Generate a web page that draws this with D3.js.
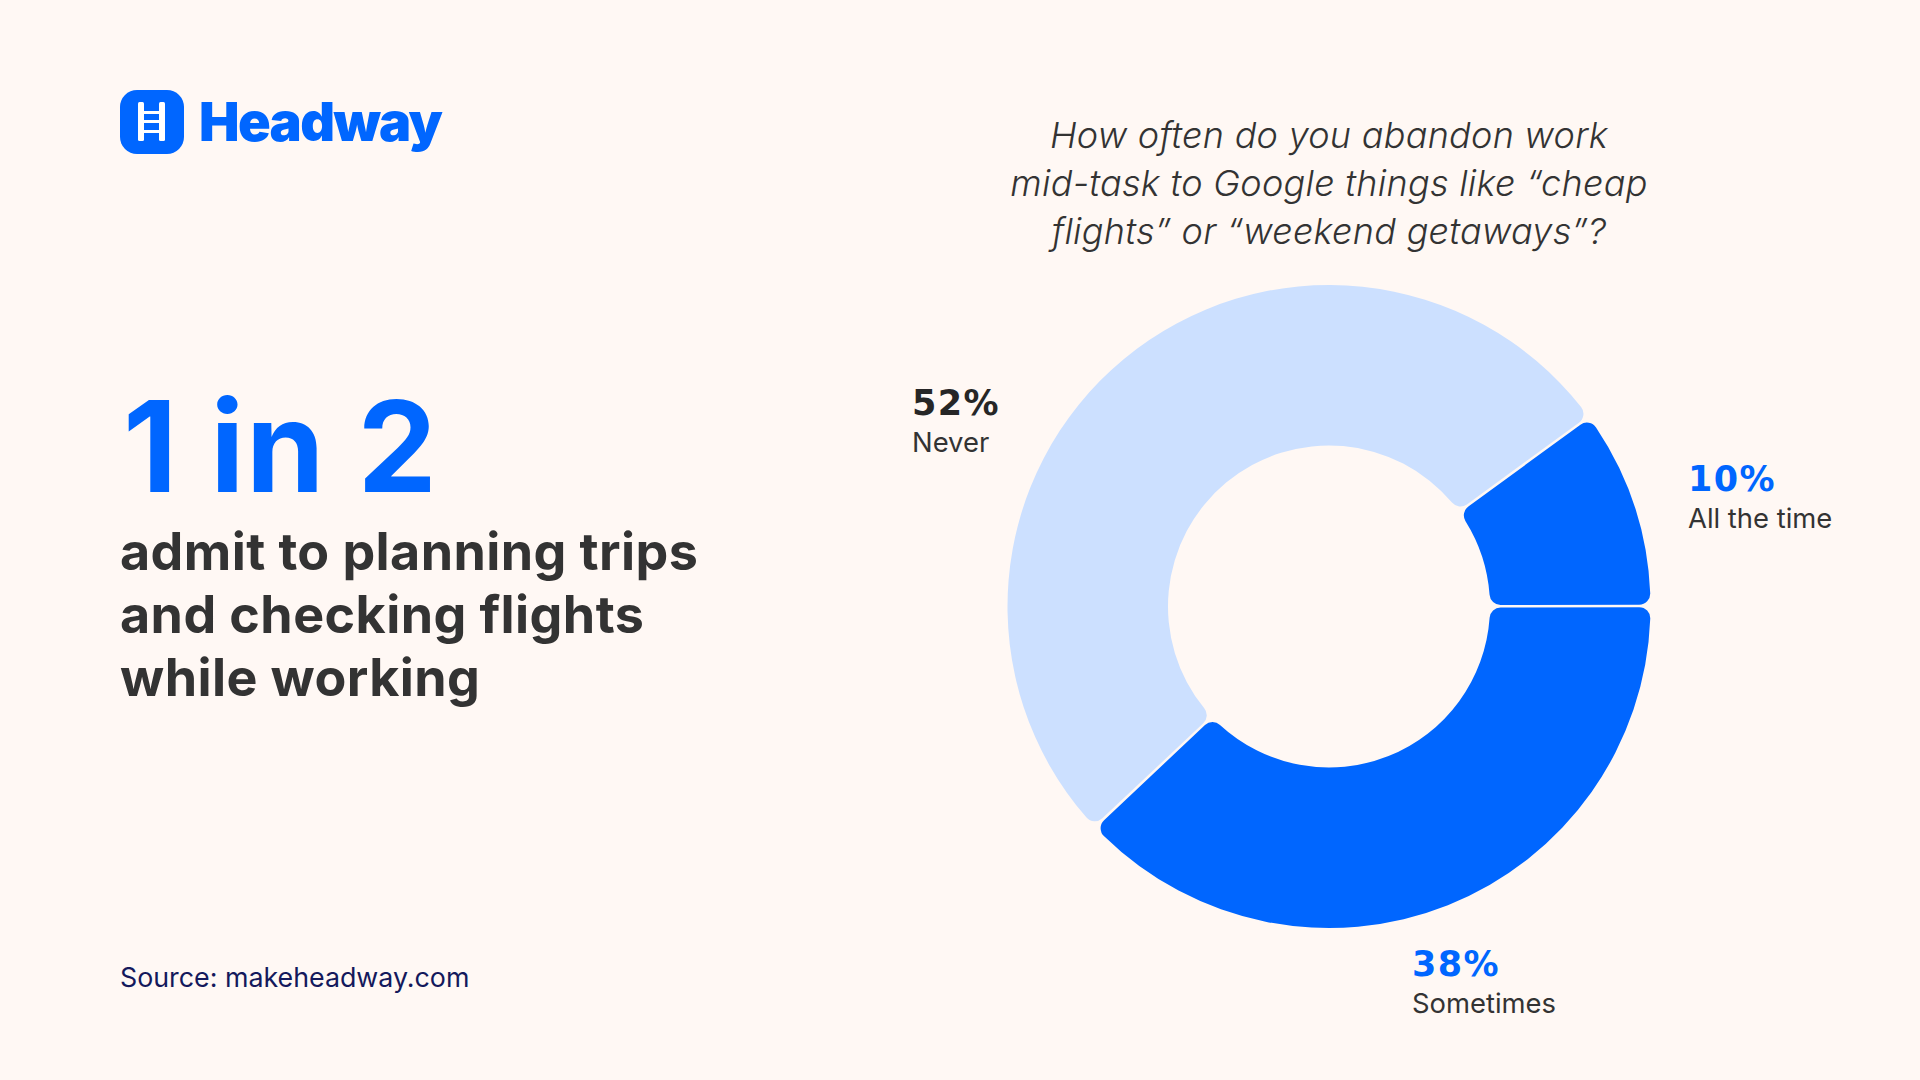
<!DOCTYPE html>
<html>
<head>
<meta charset="utf-8">
<script src="https://cdn.jsdelivr.net/npm/d3@7"></script>
<style>
    html, body { margin: 0; padding: 0; background: #fff8f4; }
    svg { display: block; }
    text { font-family: Inter, sans-serif; }
</style>
</head>
<body>
<div id="chart"></div>
<script>
var categories = ['Never', 'All the time', 'Sometimes'];
var values = [52, 10, 38];
var sliceColors = ['#cce0ff', '#0066ff', '#0066ff'];
var percentColors = ['#262626', '#0066ff', '#0066ff'];
var questionLines = [
    'How often do you abandon work',
    'mid-task to Google things like \u201ccheap',
    'flights\u201d or \u201cweekend getaways\u201d?'
];
var headlineLines = [
    'admit to planning trips',
    'and checking flights',
    'while working'
];

(function(){
    'use strict';

    var width = 1920, height = 1080;
    var cx = 1329, cy = 606.5, outer = 321.5, inner = 161;
    var blue = '#0066ff', dark = '#333333';

    var svg = d3.select('#chart').append('svg')
        .attr('width', width)
        .attr('height', height);

    svg.append('rect')
        .attr('width', width)
        .attr('height', height)
        .attr('fill', '#fff8f4');

    // logo
    var logo = svg.append('g');
    logo.append('rect')
        .attr('x', 120).attr('y', 90)
        .attr('width', 64).attr('height', 64)
        .attr('rx', 17)
        .attr('fill', blue);
    [138, 159].forEach(function(x) {
        logo.append('rect')
            .attr('x', x).attr('y', 102)
            .attr('width', 6).attr('height', 39)
            .attr('rx', 1.5)
            .attr('fill', '#fff');
    });
    [111, 120, 130].forEach(function(y) {
        logo.append('rect')
            .attr('x', 143).attr('y', y)
            .attr('width', 17).attr('height', 3)
            .attr('fill', '#fff');
    });
    logo.append('text')
        .attr('x', 199).attr('y', 141)
        .attr('font-size', 54)
        .attr('font-weight', 900)
        .attr('letter-spacing', -1.6)
        .attr('fill', blue)
        .text('Headway');

    // left column
    svg.append('text')
        .attr('x', 123).attr('y', 492)
        .attr('font-size', 126)
        .attr('font-weight', 700)
        .attr('letter-spacing', 1.6)
        .attr('fill', blue)
        .text('1 in 2');

    svg.selectAll('.headline').data(headlineLines).enter()
        .append('text')
        .attr('class', 'headline')
        .attr('x', 120)
        .attr('y', function(d, i) { return 570 + i * 63; })
        .attr('font-size', 52)
        .attr('font-weight', 700)
        .attr('letter-spacing', 0.42)
        .attr('fill', dark)
        .text(function(d) { return d; });

    svg.append('text')
        .attr('x', 120).attr('y', 987)
        .attr('font-size', 26.8)
        .attr('fill', '#14195c')
        .text('Source: makeheadway.com');

    // question
    svg.selectAll('.question').data(questionLines).enter()
        .append('text')
        .attr('class', 'question')
        .attr('x', 1329)
        .attr('y', function(d, i) { return 148 + i * 48; })
        .attr('text-anchor', 'middle')
        .attr('font-size', 36)
        .attr('font-style', 'italic')
        .attr('font-weight', 300)
        .attr('letter-spacing', 0.27)
        .attr('fill', dark)
        .text(function(d) { return d; });

    // donut
    var color = d3.scaleOrdinal().domain(categories).range(sliceColors);
    var start = 226.7 * Math.PI / 180;
    var pie = d3.pie()
        .sort(null)
        .startAngle(start)
        .endAngle(start + 2 * Math.PI);
    var arc = d3.arc()
        .innerRadius(inner)
        .outerRadius(outer)
        .cornerRadius(11)
        .padRadius(outer)
        .padAngle(2.5 / outer);

    svg.append('g')
        .attr('transform', 'translate(' + cx + ',' + cy + ')')
        .selectAll('path')
        .data(pie(values))
        .enter()
        .append('path')
        .attr('d', arc)
        .attr('fill', function(d, i) { return color(categories[i]); });

    // labels
    var labelX = [912, 1688, 1412];
    var labelY = [415, 491, 976];
    var labels = svg.selectAll('.label').data(categories).enter()
        .append('g')
        .attr('class', 'label')
        .attr('transform', function(d, i) { return 'translate(' + labelX[i] + ',' + labelY[i] + ')'; });
    labels.append('text')
        .style('font-family', '"DejaVu Sans"')
        .attr('font-size', 35)
        .attr('font-weight', 700)
        .attr('letter-spacing', 1.4)
        .attr('fill', function(d, i) { return percentColors[i]; })
        .text(function(d, i) { return values[i] + '%'; });
    labels.append('text')
        .attr('y', 37)
        .attr('font-size', 27.4)
        .attr('fill', dark)
        .text(function(d) { return d; });
})()
</script>
</body>
</html>
